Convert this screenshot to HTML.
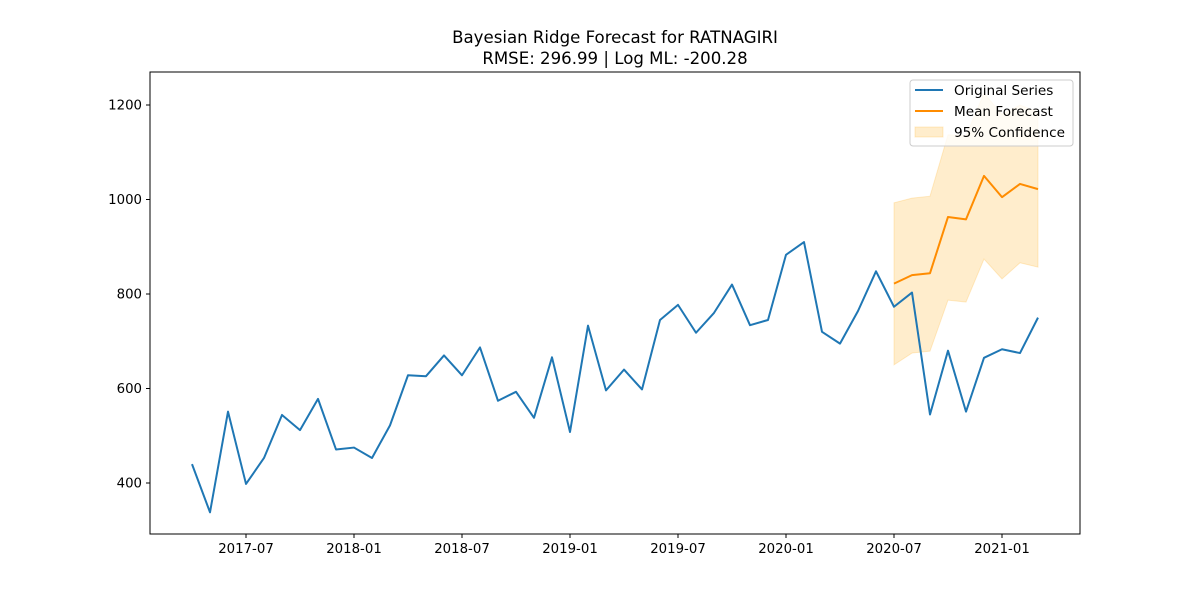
<!DOCTYPE html>
<html><head><meta charset="utf-8"><style>
body{margin:0;background:#fff;font-family:"Liberation Sans","DejaVu Sans",sans-serif;}
svg text{font-family:"DejaVu Sans","Liberation Sans",sans-serif;}
</style></head><body>
<svg id="chart" width="1200" height="600" xmlns="http://www.w3.org/2000/svg">
<rect width="1200" height="600" fill="#fff"/>
<text x="615" y="43" font-size="16.6" text-anchor="middle">Bayesian Ridge Forecast for RATNAGIRI</text>
<text x="615" y="64" font-size="16.6" text-anchor="middle">RMSE: 296.99 | Log ML: -200.28</text>
<g id="plot"></g>
</svg>
<script>
const origValues=[440,338,551,398,453,544,512,578,471,475,453,522,628,626,670,628,687,574,593,538,666,508,733,596,640,598,745,777,718,760,820,734,745,883,910,720,695,764,848,773,803,545,680,551,665,683,675,750];
const forecastMean=[822,840,844,963,958,1050,1005,1033,1022];
const forecastUpper=[993,1003,1007,1137,1135,1225,1180,1200,1185];
const forecastLower=[650,675,679,787,783,874,832,866,857];
const yTicks=[400,600,800,1000,1200];
const xTickLabels=["2017-07","2018-01","2018-07","2019-01","2019-07","2020-01","2020-07","2021-01"];
const xTickMonths=[3,9,15,21,27,33,39,45];
const forecastStart=39;

const L=150,R=1080,T=72,B=534;
const x=i=>192+(i)*(1038-192)/47;
const y=v=>105+(1200-v)*0.4725;
const NS="http://www.w3.org/2000/svg";
const g=document.getElementById('plot');
function mk(t,a){const e=document.createElementNS(NS,t);for(const k in a)e.setAttribute(k,a[k]);g.appendChild(e);return e;}

const clip=mk('clipPath',{id:'clipArea'});
const cr=document.createElementNS(NS,'rect');cr.setAttribute('x',L);cr.setAttribute('y',T);cr.setAttribute('width',R-L);cr.setAttribute('height',B-T);clip.appendChild(cr);

let pts=forecastUpper.map((v,i)=>x(forecastStart+i)+','+y(v));
pts=pts.concat(forecastLower.map((v,i)=>x(forecastStart+i)+','+y(v)).reverse());
const band=mk('polygon',{points:pts.join(' '),fill:'rgba(255,165,0,0.2)',stroke:'rgba(255,165,0,0.2)','clip-path':'url(#clipArea)'});



const ol=mk('polyline',{points:origValues.map((v,i)=>x(i)+','+y(v)).join(' '),fill:'none',stroke:'#1f77b4','stroke-width':2,'stroke-linejoin':'round'});


const fl=mk('polyline',{points:forecastMean.map((v,i)=>x(forecastStart+i)+','+y(v)).join(' '),fill:'none',stroke:'#ff8c00','stroke-width':2,'stroke-linejoin':'round'});



const frame=mk('rect',{x:L,y:T,width:R-L,height:B-T,fill:'none',stroke:'#000','stroke-width':1});



yTicks.forEach(v=>{
 const tk=mk('line',{x1:L-4,x2:L,y1:y(v),y2:y(v),stroke:'#000'});
 
 
 const t=mk('text',{x:L-8,y:y(v)+4.5,'font-size':13.3,'text-anchor':'end'});t.textContent=v;
 
 
});
xTickMonths.forEach((m,i)=>{
 const tk=mk('line',{x1:x(m),x2:x(m),y1:B,y2:B+4,stroke:'#000'});
 
 
 const t=mk('text',{x:x(m),y:B+19,'font-size':13.3,'text-anchor':'middle'});t.textContent=xTickLabels[i];
 
 
});

const lg=mk('rect',{x:910,y:80,width:163,height:66,rx:3,fill:'rgba(255,255,255,0.8)',stroke:'#ccc'});


const l1=mk('line',{x1:915,x2:943,y1:90,y2:90,stroke:'#1f77b4','stroke-width':2});


const l2=mk('line',{x1:915,x2:943,y1:111,y2:111,stroke:'#ff8c00','stroke-width':2});


const l3=mk('rect',{x:915,y:127,width:28,height:10,fill:'rgba(255,165,0,0.2)',stroke:'rgba(255,165,0,0.2)'});


[["Original Series",95],["Mean Forecast",116],["95% Confidence",137]].forEach(([s,yy])=>{
 const t=mk('text',{x:954,y:yy,'font-size':13.6});t.textContent=s;
 
 
});
</script>
</body></html>
